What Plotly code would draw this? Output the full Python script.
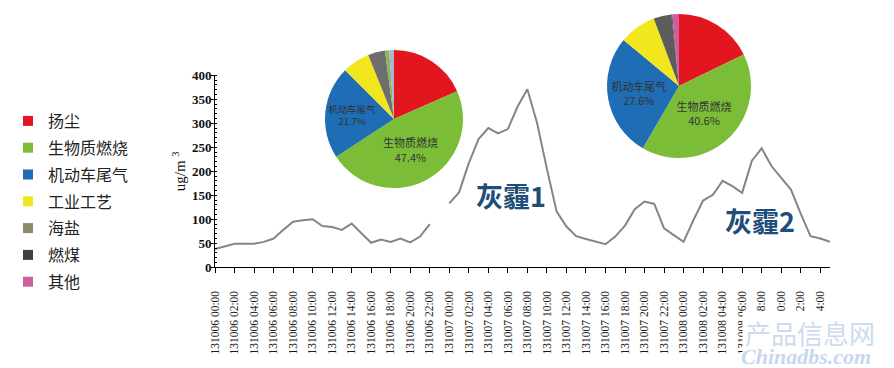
import plotly.graph_objects as go

# ---------------- data ----------------
hours = list(range(64))  # hourly index from 131006 00:00 to 131008 15:00
pm_values = [38, 44, 49, 49, 49, 53, 60, 78, 95, 98, 100, 86, 84, 78, 91, 71,
             51, 58, 53, 60, 52, 64, 90, None, 133, 156, 217, 267, 290, 279, 288, 335,
             371, 300, 205, 116, 85, 65, 59, 53, 48, 64, 87, 121, 137, 132, 81, 67,
             53, 98, 139, 151, 180, 169, 155, 222, 248, 211, 187, 162, 112, 65, 60, 53]

tick_hours = [0, 2, 4, 6, 8, 10, 12, 14, 16, 18, 20, 22,
              24, 26, 28, 30, 32, 34, 36, 38, 40, 42, 44, 46,
              48, 50, 52, 54, 56, 58, 60, 62]
tick_labels = ["131006 00:00", "131006 02:00", "131006 04:00", "131006 06:00",
               "131006 08:00", "131006 10:00", "131006 12:00", "131006 14:00",
               "131006 16:00", "131006 18:00", "131006 20:00", "131006 22:00",
               "131007 00:00", "131007 02:00", "131007 04:00", "131007 06:00",
               "131007 08:00", "131007 10:00", "131007 12:00", "131007 14:00",
               "131007 16:00", "131007 18:00", "131007 20:00", "131007 22:00",
               "131008 00:00", "131008 02:00", "131008 04:00", "131008 06:00",
               "131008 08:00", "131008 10:00", "131008 12:00", "131008 14:00"]

sources = ["扬尘", "生物质燃烧", "机动车尾气", "工业工艺", "海盐", "燃煤", "其他"]
legend_colors = ["#e3161f", "#7cbd38", "#1f6db5", "#f2e61c", "#8d8a6c", "#404040", "#cc5f9c"]

pie1_values = [18.4, 47.4, 21.7, 6.4, 4.0, 1.0, 1.1]
pie1_text = ["", "生物质燃烧<br>47.4%", "机动车尾气<br>21.7%", "", "", "", ""]
pie1_colors = ["#e3161f", "#7cbd38", "#1f6db5", "#f2e61c", "#6e6e6e", "#86b85a", "#a9b6d0"]

pie2_values = [17.8, 40.6, 27.6, 8.3, 4.0, 0.2, 1.5]
pie2_text = ["", "生物质燃烧<br>40.6%", "机动车尾气<br>27.6%", "", "", "", ""]
pie2_colors = ["#e3161f", "#7cbd38", "#1f6db5", "#f2e61c", "#5c5c5c", "#404040", "#cc5f9c"]

W, H = 894, 368

fig = go.Figure()

# main line
fig.add_trace(go.Scatter(
    x=hours, y=pm_values, mode="lines",
    line=dict(color="#858585", width=2),
    connectgaps=False, showlegend=False, hoverinfo="skip"))

# legend entries
for name, col in zip(sources, legend_colors):
    fig.add_trace(go.Scatter(
        x=[None], y=[None], mode="markers", name=name, legendgroup=name,
        marker=dict(symbol="square", size=10, color=col),
        showlegend=True))

# pies
def pie_domain(cx, cy, r):
    return dict(x=[(cx - r) / W, (cx + r) / W], y=[(H - cy - r) / H, (H - cy + r) / H])

fig.add_trace(go.Pie(
    labels=sources, values=pie1_values, text=pie1_text, textinfo="text",
    textposition="inside", insidetextorientation="horizontal",
    textfont=dict(family="Noto Sans CJK SC", size=11, color="#333333"),
    marker=dict(colors=pie1_colors, line=dict(width=0)),
    sort=False, direction="clockwise", rotation=0,
    domain=pie_domain(394, 119, 69), showlegend=False, hoverinfo="skip"))

fig.add_trace(go.Pie(
    labels=sources, values=pie2_values, text=pie2_text, textinfo="text",
    textposition="inside", insidetextorientation="horizontal",
    textfont=dict(family="Noto Sans CJK SC", size=11, color="#333333"),
    marker=dict(colors=pie2_colors, line=dict(width=0)),
    sort=False, direction="clockwise", rotation=0,
    domain=pie_domain(679, 86, 72), showlegend=False, hoverinfo="skip"))

def note(text, cx, cy, font, **kw):
    return dict(text=text, x=cx / W, y=(H - cy) / H, xref="paper", yref="paper",
                xanchor="center", yanchor="middle", showarrow=False, font=font, **kw)

fig.update_layout(
    width=W, height=H,
    margin=dict(l=0, r=0, t=0, b=0),
    paper_bgcolor="white", plot_bgcolor="white",
    xaxis=dict(
        domain=[215 / W, 830 / W], range=[0, 63],
        showline=True, linecolor="#000000", linewidth=1,
        ticks="outside", ticklen=5, tickcolor="#000000",
        tickvals=tick_hours, ticktext=tick_labels, tickangle=-90,
        tickfont=dict(family="Liberation Serif", size=11.5, color="#1a1a1a"),
        ticklabelstandoff=13,
        showgrid=False, zeroline=False, automargin=False),
    yaxis=dict(
        domain=[(H - 267.3) / H, (H - 75.3) / H], range=[0, 400], dtick=50,
        showline=True, linecolor="#000000", linewidth=1,
        ticks="outside", ticklen=4, tickcolor="#000000",
        tickfont=dict(family="Liberation Serif", size=13, color="#111111", weight="bold"),
        ticklabelstandoff=-4,
        minor=dict(ticks="inside", ticklen=2, dtick=10, tickcolor="#000000"),
        title=dict(text="ug/m <sup>3</sup>", standoff=2,
                   font=dict(family="Liberation Serif", size=15, color="#111111")),
        showgrid=False, zeroline=False, automargin=False),
    legend=dict(
        x=8 / W, y=(H - 104) / H, xanchor="left", yanchor="top",
        font=dict(family="Noto Sans CJK SC", size=16, color="#222222"),
        tracegroupgap=3, bgcolor="rgba(0,0,0,0)", itemsizing="trace"),
    annotations=[
        note("灰霾1", 511, 195,
             dict(family="Noto Sans CJK SC", size=27, color="#1d4d78", weight="bold")),
        note("灰霾2", 760, 220,
             dict(family="Noto Sans CJK SC", size=27, color="#1d4d78", weight="bold")),
        note("产品信息网", 810, 332,
             dict(family="Noto Sans CJK SC", size=26, color="#cddbef"),
             bgcolor="white", borderpad=2),
        note("Chinadbs.com", 806, 356,
             dict(family="Liberation Serif", size=22, color="#c6d7ee",
                  style="italic", weight="bold")),
    ],
)

fig.write_html("out.html")
